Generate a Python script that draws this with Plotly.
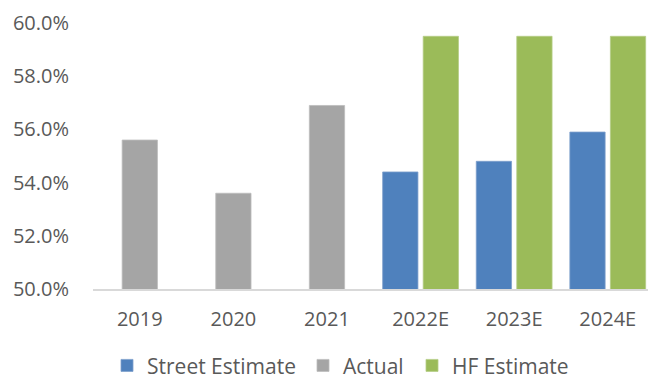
import plotly.graph_objects as go

# Gross margin history and estimates (%)
years = ["2019", "2020", "2021", "2022E", "2023E", "2024E"]
street_estimate = [None, None, None, 54.4, 54.8, 55.9]
actual = [55.6, 53.6, 56.9, None, None, None]
hf_estimate = [None, None, None, 59.5, 59.5, 59.5]

y_ticks = [50, 52, 54, 56, 58, 60]
y_tick_text = [f"{v:.1f}%" for v in y_ticks]

BLUE = "#4F81BD"
GRAY = "#A5A5A5"
GREEN = "#9BBB59"
TEXT = "#595959"
FONT = "Open Sans"

BAR_W = 0.377
W, H = 648, 381

fig = go.Figure()
fig.add_trace(go.Bar(
    name="Street Estimate", x=years, y=street_estimate, legend="legend",
    marker=dict(color=BLUE, line=dict(color="#7EA0CC", width=0.8)),
    width=BAR_W, offset=-0.405,
))
fig.add_trace(go.Bar(
    name="Actual", x=years, y=actual, legend="legend2",
    marker=dict(color=GRAY, line=dict(color="#BDBDBD", width=0.8)),
    width=BAR_W, offset=-BAR_W / 2,
))
fig.add_trace(go.Bar(
    name="HF Estimate", x=years, y=hf_estimate, legend="legend3",
    marker=dict(color=GREEN, line=dict(color="#B5CD86", width=0.8)),
    width=BAR_W, offset=0.028,
))


def legend_box(left_px):
    return dict(
        orientation="h", xref="container", yref="container",
        x=left_px / W, xanchor="left", y=0.04, yanchor="middle",
        font=dict(family=FONT, size=21, color=TEXT),
        bgcolor="rgba(0,0,0,0)", borderwidth=0,
    )


fig.update_layout(
    width=W, height=H,
    margin=dict(l=93, r=0, t=23, b=92),
    barmode="overlay",
    plot_bgcolor="white", paper_bgcolor="white",
    font=dict(family=FONT, size=20, color=TEXT),
    showlegend=True,
    legend=legend_box(107),
    legend2=legend_box(303),
    legend3=legend_box(412),
)
fig.update_xaxes(
    type="category", range=[-0.5, 5.43],
    showline=True, linecolor="#D9D9D9", linewidth=2,
    showgrid=False, ticks="", ticklabelstandoff=11,
    tickfont=dict(family=FONT, size=20, color=TEXT),
)
fig.update_yaxes(
    range=[50, 60], tickvals=y_ticks, ticktext=y_tick_text,
    showline=False, showgrid=False, zeroline=False, ticks="",
    ticklabelstandoff=23,
    tickfont=dict(family=FONT, size=20, color=TEXT),
)

fig.write_html("out.html")
